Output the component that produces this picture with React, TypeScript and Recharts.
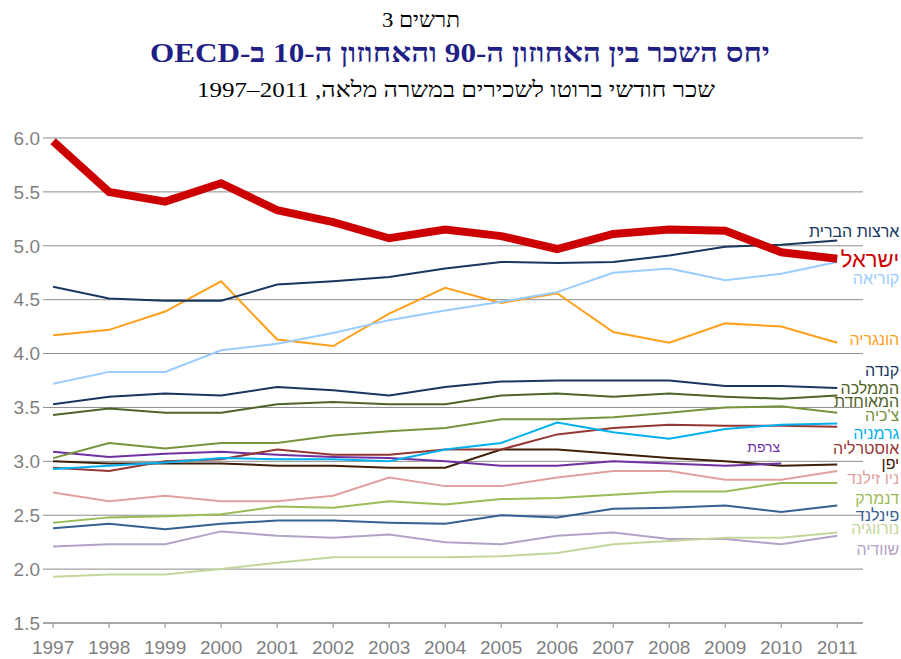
import React from 'react';
import { LineChart, Line, XAxis, YAxis, CartesianGrid, LabelList } from 'recharts';

const years = [1997, 1998, 1999, 2000, 2001, 2002, 2003, 2004, 2005, 2006, 2007, 2008, 2009, 2010, 2011];
const yTicks = [1.5, 2.0, 2.5, 3.0, 3.5, 4.0, 4.5, 5.0, 5.5, 6.0];

const israel = [5.97, 5.50, 5.41, 5.58, 5.33, 5.22, 5.07, 5.15, 5.09, 4.97, 5.11, 5.15, 5.14, 4.94, 4.88];
const usa = [4.62, 4.51, 4.49, 4.49, 4.64, 4.67, 4.71, 4.79, 4.85, 4.84, 4.85, 4.91, 4.99, 5.01, 5.05];
const korea = [3.72, 3.83, 3.83, 4.03, 4.09, 4.19, 4.31, 4.40, 4.48, 4.57, 4.75, 4.79, 4.68, 4.74, 4.85];
const hungary = [4.17, 4.22, 4.39, 4.67, 4.13, 4.07, 4.37, 4.61, 4.47, 4.56, 4.20, 4.10, 4.28, 4.25, 4.10];
const canada = [3.53, 3.60, 3.63, 3.61, 3.69, 3.66, 3.61, 3.69, 3.74, 3.75, 3.75, 3.75, 3.70, 3.70, 3.68];
const uk = [3.43, 3.49, 3.45, 3.45, 3.53, 3.55, 3.53, 3.53, 3.61, 3.63, 3.60, 3.63, 3.60, 3.58, 3.61];
const czech = [3.03, 3.17, 3.12, 3.17, 3.17, 3.24, 3.28, 3.31, 3.39, 3.39, 3.41, 3.45, 3.50, 3.51, 3.45];
const germany = [2.93, 2.96, 2.99, 3.03, 3.02, 3.02, 3.00, 3.11, 3.17, 3.36, 3.27, 3.21, 3.30, 3.34, 3.35];
const australia = [2.94, 2.91, 3.00, 3.02, 3.11, 3.06, 3.06, 3.11, 3.11, 3.25, 3.31, 3.34, 3.33, 3.33, 3.32];
const france = [3.09, 3.04, 3.07, 3.09, 3.06, 3.04, 3.03, 3.00, 2.96, 2.96, 3.00, 2.98, 2.96, 2.98, null];
const japan = [3.00, 2.98, 2.98, 2.98, 2.96, 2.96, 2.94, 2.94, 3.11, 3.11, 3.07, 3.03, 3.00, 2.96, 2.97];
const newZealand = [2.71, 2.63, 2.68, 2.63, 2.63, 2.68, 2.85, 2.77, 2.77, 2.85, 2.91, 2.91, 2.83, 2.83, 2.91];
const denmark = [2.43, 2.48, 2.49, 2.51, 2.58, 2.57, 2.63, 2.60, 2.65, 2.66, 2.69, 2.72, 2.72, 2.80, 2.80];
const finland = [2.38, 2.42, 2.37, 2.42, 2.45, 2.45, 2.43, 2.42, 2.50, 2.48, 2.56, 2.57, 2.59, 2.53, 2.59];
const sweden = [2.21, 2.23, 2.23, 2.35, 2.31, 2.29, 2.32, 2.25, 2.23, 2.31, 2.34, 2.28, 2.28, 2.23, 2.31];
const norway = [1.93, 1.95, 1.95, 2.00, 2.06, 2.11, 2.11, 2.11, 2.12, 2.15, 2.23, 2.26, 2.29, 2.29, 2.34];

const titleNumber = 'תרשים 3';
const titleMain = 'יחס השכר בין האחוזון ה-90 והאחוזון ה-10 ב-OECD';
const subtitle = 'שכר חודשי ברוטו לשכירים במשרה מלאה, \u202A1997–2011\u202C';

type Series = {
  key: string;
  values: (number | null)[];
  label: string[];
  color: string;
  width: number;
  labelIndex: number;
  dx: number;
  dy: number;
  fontSize: number;
};

const series: Series[] = [
  { key: 'sweden', values: sweden, label: ['שוודיה'], color: '#B3A2C7', width: 2, labelIndex: 14, dx: 62, dy: 13, fontSize: 16 },
  { key: 'norway', values: norway, label: ['נורווגיה'], color: '#C3D69B', width: 2, labelIndex: 14, dx: 62, dy: -4, fontSize: 16 },
  { key: 'finland', values: finland, label: ['פינלנד'], color: '#366092', width: 2, labelIndex: 14, dx: 62, dy: 9, fontSize: 16 },
  { key: 'denmark', values: denmark, label: ['דנמרק'], color: '#9BBB59', width: 2, labelIndex: 14, dx: 62, dy: 15, fontSize: 16 },
  { key: 'newZealand', values: newZealand, label: ['ניו זילנד'], color: '#E0A09E', width: 2, labelIndex: 14, dx: 62, dy: 7, fontSize: 16 },
  { key: 'japan', values: japan, label: ['יפן'], color: '#3F2008', width: 2, labelIndex: 14, dx: 62, dy: -2, fontSize: 16 },
  { key: 'france', values: france, label: ['צרפת'], color: '#7030A0', width: 2, labelIndex: 13, dx: -1, dy: -16, fontSize: 14 },
  { key: 'australia', values: australia, label: ['אוסטרליה'], color: '#953735', width: 2, labelIndex: 14, dx: 62, dy: 21, fontSize: 16 },
  { key: 'germany', values: germany, label: ['גרמניה'], color: '#00B0F0', width: 2, labelIndex: 14, dx: 62, dy: 9, fontSize: 16 },
  { key: 'czech', values: czech, label: ["צ'כיה"], color: '#77933C', width: 2, labelIndex: 14, dx: 62, dy: 2, fontSize: 16 },
  { key: 'uk', values: uk, label: ['הממלכה', 'המאוחדת'], color: '#4F6228', width: 2, labelIndex: 14, dx: 62, dy: -8, fontSize: 16 },
  { key: 'canada', values: canada, label: ['קנדה'], color: '#1B3560', width: 2, labelIndex: 14, dx: 62, dy: -18, fontSize: 16 },
  { key: 'hungary', values: hungary, label: ['הונגריה'], color: '#FF9F1A', width: 2, labelIndex: 14, dx: 62, dy: -4, fontSize: 16 },
  { key: 'korea', values: korea, label: ['קוריאה'], color: '#99CCFF', width: 2, labelIndex: 14, dx: 62, dy: 16, fontSize: 16 },
  { key: 'usa', values: usa, label: ['ארצות הברית'], color: '#17375E', width: 2, labelIndex: 14, dx: 62, dy: -9, fontSize: 16 },
  { key: 'israel', values: israel, label: ['ישראל'], color: '#CC0000', width: 8, labelIndex: 14, dx: 62, dy: 0, fontSize: 22 },
];

const data = years.map((year, i) => {
  const row: Record<string, number | null> = { year };
  series.forEach((s) => {
    row[s.key] = s.values[i];
  });
  return row;
});

const FONT = '"Liberation Sans", Arial, sans-serif';
const SERIF = '"Liberation Serif", "Times New Roman", serif';

const makeLabel = (s: Series) => (props: any) => {
  const { x, y, index } = props;
  if (index !== s.labelIndex || x == null || y == null) return null;
  const lineHeight = 13;
  return (
    <text
      x={x + s.dx}
      y={y + s.dy}
      textAnchor="end"
      dominantBaseline="central"
      fill={s.color}
      fontSize={s.fontSize}
      fontFamily={FONT}
    >
      {s.label.map((t, i) => (
        <tspan key={i} x={x + s.dx} dy={i === 0 ? 0 : lineHeight}>
          {t}
        </tspan>
      ))}
    </text>
  );
};

export default function App() {
  return (
    <div style={{ position: 'absolute', left: 0, top: 0, width: 901, height: 659, background: '#fff' }}>
      <svg width={901} height={130} style={{ position: 'absolute', left: 0, top: 0 }}>
        <text x={421} y={27} textAnchor="middle" direction="rtl" fontFamily={SERIF} fontSize={22} fill="#000"
          textLength={78} lengthAdjust="spacingAndGlyphs">
          {titleNumber}
        </text>
        <text x={460} y={62} textAnchor="middle" direction="rtl" fontFamily={SERIF} fontSize={27} fontWeight="bold" fill="#1F1F85"
          textLength={620} lengthAdjust="spacingAndGlyphs">
          {titleMain}
        </text>
        <text x={456} y={97} textAnchor="middle" direction="rtl" fontFamily={SERIF} fontSize={22} fill="#000"
          textLength={518} lengthAdjust="spacingAndGlyphs">
          {subtitle}
        </text>
      </svg>
      <div style={{ position: 'absolute', left: 0, top: 0 }}>
        <LineChart width={901} height={659} data={data} margin={{ top: 138, right: 38, bottom: 0, left: 0 }}>
          <CartesianGrid vertical={false} stroke="#8C8C8C" />
          <XAxis
            dataKey="year"
            type="number"
            domain={[1996.82, 2011.46]}
            ticks={years}
            interval={0}
            height={36}
            tickSize={5}
            tickMargin={13}
            axisLine={{ stroke: '#8C8C8C' }}
            tickLine={{ stroke: '#8C8C8C' }}
            tick={{ fontSize: 19, fill: '#7F7F7F', fontFamily: FONT }}
          />
          <YAxis
            type="number"
            domain={[1.5, 6]}
            ticks={yTicks}
            interval={0}
            width={43}
            axisLine={false}
            tickLine={false}
            tickSize={0}
            tickMargin={3}
            tickFormatter={(v: number) => v.toFixed(1)}
            tick={{ fontSize: 19, fill: '#7F7F7F', fontFamily: FONT }}
          />
          {series.map((s) => (
            <Line
              key={s.key}
              dataKey={s.key}
              type="linear"
              stroke={s.color}
              strokeWidth={s.width}
              dot={false}
              activeDot={false}
              isAnimationActive={false}
              connectNulls={false}
            >
              <LabelList dataKey={s.key} content={makeLabel(s)} />
            </Line>
          ))}
        </LineChart>
      </div>
    </div>
  );
}
